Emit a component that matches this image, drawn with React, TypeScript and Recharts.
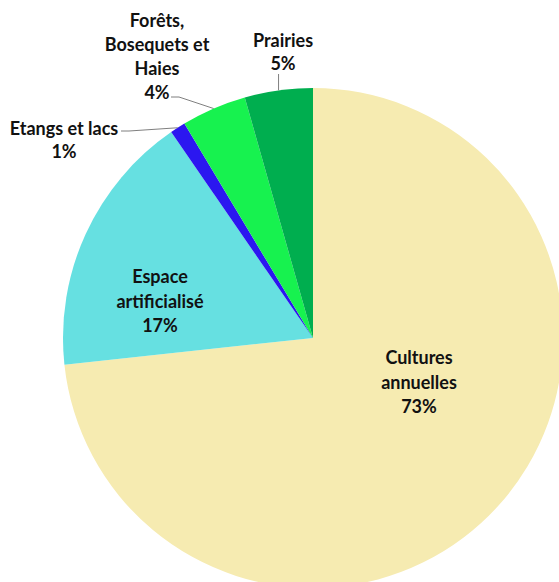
import React from 'react';
import { PieChart, Pie, Cell } from 'recharts';

const categories = ['Cultures annuelles', 'Espace artificialisé', 'Etangs et lacs', 'Forêts, Bosequets et Haies', 'Prairies'];
const shares = [73.3, 17.1, 1.0, 4.2, 4.4];
const shareLabels = ['73%', '17%', '1%', '4%', '5%'];
const nameLines = [['Cultures', 'annuelles'], ['Espace', 'artificialisé'], ['Etangs et lacs'], ['Forêts,', 'Bosequets et', 'Haies'], ['Prairies']];
const colors = ['#F6EBB1', '#66E0E1', '#2B17F0', '#17F24F', '#00AE4F'];

const data = categories.map((name, i) => ({ name, value: shares[i] }));

// label placement relative to pie centre; lead = start of the leader line (null = inside label)
const layout: Array<{ dx: number; dy: number; gap: number; lead: [number, number] | null }> = [
  { dx: 106, dy: 19, gap: 24.5, lead: null },
  { dx: -153, dy: -62, gap: 24.5, lead: null },
  { dx: -249, dy: -210, gap: 23, lead: [-192, -207] },
  { dx: -156, dy: -318, gap: 24, lead: [-142, -241] },
  { dx: -30, dy: -298, gap: 23, lead: [-35, -264] },
];

const RAD = Math.PI / 180;

const renderLabel = (props: any) => {
  const { cx, cy, midAngle, outerRadius, index } = props;
  const pos = layout[index];
  const lines = [...nameLines[index], shareLabels[index]];
  const ex = cx + outerRadius * Math.cos(-midAngle * RAD);
  const ey = cy + outerRadius * Math.sin(-midAngle * RAD);
  return (
    <g key={'lbl' + index}>
      {pos.lead && (
        index === 4 ? (
          <polyline points={`${ex},${cy + pos.lead[1]} ${ex},${ey}`} stroke="#7f7f7f" strokeWidth={1} fill="none" />
        ) : (
          <polyline points={`${cx + pos.lead[0]},${cy + pos.lead[1]} ${cx + pos.lead[0] + 8},${cy + pos.lead[1]} ${ex},${ey}`} stroke="#7f7f7f" strokeWidth={1} fill="none" />
        )
      )}
      {lines.map((t, k) => (
        <text
          key={k}
          x={cx + pos.dx}
          y={cy + pos.dy + k * pos.gap}
          textAnchor="middle"
          dominantBaseline="central"
          fill="#111"
          fontFamily="Lato, 'Open Sans', sans-serif"
          fontWeight={700}
          fontSize={18}
        >
          {t}
        </text>
      ))}
    </g>
  );
};

export default function App() {
  return (
    <div style={{ position: 'absolute', left: 0, top: 0, width: 559, height: 582, background: '#fff', overflow: 'hidden' }}>
      <PieChart width={559} height={582} margin={{ top: 0, right: 0, bottom: 0, left: 0 }}>
        <Pie
          data={data}
          dataKey="value"
          nameKey="name"
          cx={313}
          cy={338}
          outerRadius={250}
          startAngle={90}
          endAngle={-270}
          stroke="none"
          label={renderLabel}
          labelLine={false}
          isAnimationActive={false}
        >
          {data.map((d, i) => (
            <Cell key={d.name} fill={colors[i]} />
          ))}
        </Pie>
      </PieChart>
    </div>
  );
}
